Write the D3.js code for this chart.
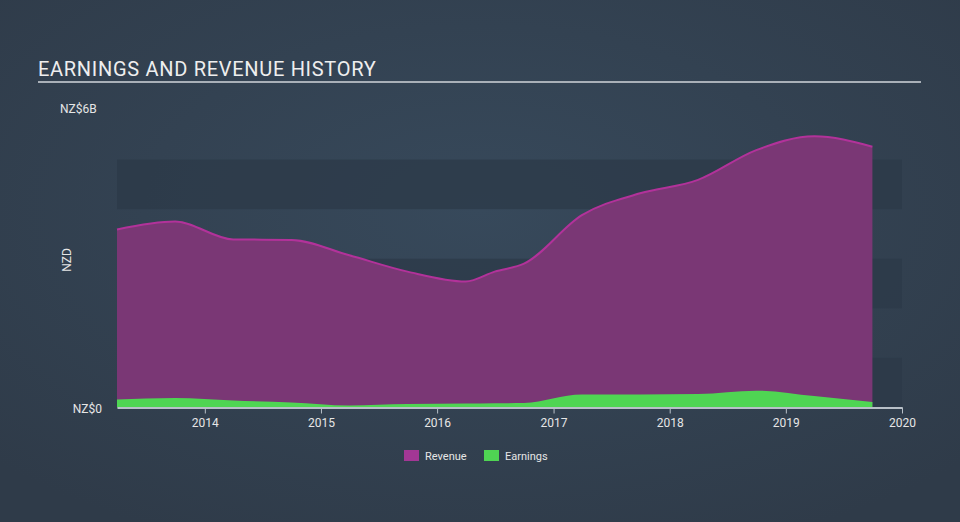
<!DOCTYPE html>
<html><head><meta charset="utf-8">
<script src="https://cdn.jsdelivr.net/npm/d3@7"></script>
<style>html,body{margin:0;padding:0;background:#334252;}svg{display:block;font-family:Roboto,"Noto Sans",sans-serif;}</style>
</head><body>
<svg id="c" width="960" height="522"></svg>
<script>
const dates = ["2013-03-31","2013-09-30","2014-03-31","2014-09-30","2015-03-31","2015-09-30","2016-03-31","2016-06-30","2016-09-30","2017-03-31","2017-09-30","2018-03-31","2018-09-30","2019-03-31","2019-09-30"];
const revenue = [3.59,3.75,3.39,3.38,3.07,2.74,2.54,2.74,2.90,3.88,4.32,4.59,5.19,5.47,5.26];
const earnings = [0.16,0.19,0.14,0.10,0.04,0.07,0.08,0.085,0.09,0.26,0.26,0.27,0.34,0.23,0.11];
const xTicks = ["2014","2015","2016","2017","2018","2019","2020"];
const yLabels = ["NZ$0","NZ$6B"];
const seriesNames = ["Revenue","Earnings"];

const svg = d3.select("#c");
const defs = svg.append("defs");
const rg = defs.append("radialGradient").attr("id","bg").attr("cx","50%").attr("cy","40%").attr("r","70%");
rg.append("stop").attr("offset","0%").attr("stop-color","#37495b");
rg.append("stop").attr("offset","100%").attr("stop-color","#2f3b49");
svg.append("rect").attr("width",960).attr("height",522).attr("fill","url(#bg)");

const parse = d3.timeParse("%Y-%m-%d");
const data = dates.map((d,i)=>({date:parse(d), rev:revenue[i], earn:earnings[i]}));

const x = d3.scaleTime().domain([parse("2013-03-31"), parse("2020-01-01")]).range([117, 902]);
const y = d3.scaleLinear().domain([0, 6]).range([407.5, 110]);

// bands
const bands = [0,2,4];
svg.selectAll("rect.band").data(bands).enter().append("rect")
  .attr("x", x.range()[0]).attr("width", x.range()[1]-x.range()[0])
  .attr("y", d=>y(d+1)).attr("height", d=>y(d)-y(d+1))
  .attr("fill", "#2c3a48").attr("opacity",0.75);

// title
svg.append("text").attr("x",38).attr("y",76).text("EARNINGS AND REVENUE HISTORY")
  .attr("fill","#eeeeee").attr("font-size",20).attr("letter-spacing",0.7);
svg.append("line").attr("x1",38).attr("x2",921).attr("y1",82).attr("y2",82)
  .attr("stroke","#a9b0b8").attr("stroke-width",2);

// areas
const curve = d3.curveMonotoneX;
const revArea = d3.area().x(d=>x(d.date)).y0(y(0)).y1(d=>y(d.rev)).curve(curve);
const revLine = d3.line().x(d=>x(d.date)).y(d=>y(d.rev)).curve(curve);
svg.append("path").datum(data).attr("d",revArea).attr("fill","#7a3775");
svg.append("path").datum(data).attr("d",revLine).attr("fill","none").attr("stroke","#b2329a").attr("stroke-width",2);
const earnArea = d3.area().x(d=>x(d.date)).y0(y(0)).y1(d=>y(d.earn)).curve(curve);
svg.append("path").datum(data).attr("d",earnArea).attr("fill","#4fd553");

// x axis
const xa = svg.append("g").attr("transform",`translate(0,${y(0)})`)
  .call(d3.axisBottom(x).tickValues(xTicks.map(t=>parse(t+"-01-01"))).tickFormat(d3.timeFormat("%Y")).tickSize(6).tickSizeOuter(0));
xa.select(".domain").attr("stroke","#b8c0c8").attr("stroke-width",2);
xa.selectAll(".tick line").attr("stroke","#b8c0c8");
xa.selectAll(".tick text").attr("fill","#e6e6e6").attr("font-size",12).attr("dy","0.9em").attr("font-family","Roboto,sans-serif");

// y labels
svg.append("text").attr("x",102).attr("y",y(0)+5).attr("text-anchor","end").attr("fill","#e6e6e6").attr("font-size",12).text(yLabels[0]);
svg.append("text").attr("x",60).attr("y",y(6)+3).attr("text-anchor","start").attr("fill","#e6e6e6").attr("font-size",12).text(yLabels[1]);
svg.append("text").attr("transform","translate(71,260) rotate(-90)").attr("text-anchor","middle").attr("fill","#e6e6e6").attr("font-size",12).text("NZD");

// legend
const colors = ["#a33795","#4fd553"];
const lg = svg.append("g");
const lx = [404, 484];
seriesNames.forEach((n,i)=>{
  lg.append("rect").attr("x",lx[i]).attr("y",450).attr("width",15).attr("height",11).attr("fill",colors[i]);
  lg.append("text").attr("x",lx[i]+21).attr("y",460).attr("fill","#e6e6e6").attr("font-size",11).text(n);
});
</script>
</body></html>
